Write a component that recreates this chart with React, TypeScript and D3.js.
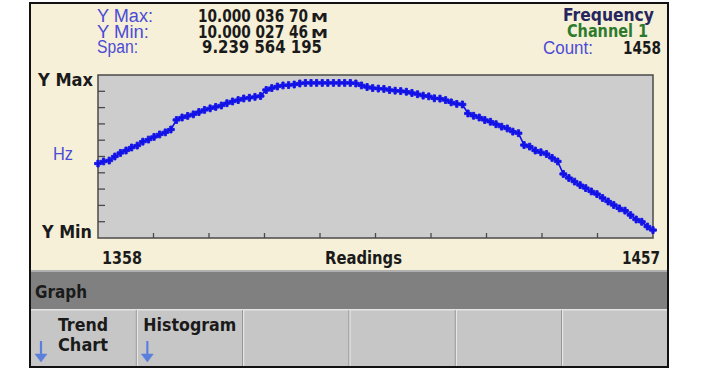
import React, { useMemo } from "react";
import * as d3 from "d3";

const WIDTH = 720;
const HEIGHT = 370;

// plot box inside the instrument screen
const PLOT = { left: 98, top: 75, right: 653, bottom: 238 };

const FIRST_READING = 1358;
const LAST_READING = 1457;
const COUNT = 1458;

// header numbers, as shown by the instrument
const Y_MAX_LABEL = "10.000 036 70";
const Y_MIN_LABEL = "10.000 027 46";
const SPAN_LABEL = "9.239 564 195";

// axis range: Hz above 10 MHz
const Y_MIN_HZ = 27.46;
const Y_MAX_HZ = 36.7;

// readings 1358..1457, in Hz above 10 000 000 Hz
const readings = [
  31.68, 31.8, 31.85, 32.08, 32.28, 32.42, 32.59, 32.7, 32.92, 33.04,
  33.19, 33.33, 33.45, 33.61, 34.15, 34.29, 34.38, 34.47, 34.6, 34.72,
  34.81, 34.89, 34.97, 35.1, 35.2, 35.28, 35.37, 35.41, 35.46, 35.51,
  35.85, 35.96, 36.05, 36.11, 36.13, 36.16, 36.22, 36.25, 36.25, 36.25,
  36.25, 36.25, 36.25, 36.25, 36.25, 36.25, 36.22, 36.11, 36.02, 35.96,
  35.93, 35.91, 35.85, 35.81, 35.79, 35.75, 35.68, 35.61, 35.53, 35.49,
  35.38, 35.36, 35.28, 35.15, 35.06, 35.03, 34.52, 34.39, 34.29, 34.15,
  34.05, 33.91, 33.77, 33.67, 33.49, 33.4, 32.73, 32.64, 32.42, 32.32,
  32.22, 32.0, 31.8, 31.09, 30.86, 30.66, 30.46, 30.29, 30.1, 29.95,
  29.73, 29.53, 29.33, 29.14, 29.01, 28.76, 28.51, 28.38, 28.11, 27.91,
];

const softKeys = [
  { lines: ["Trend", "Chart"], arrow: true },
  { lines: ["Histogram"], arrow: true },
  { lines: [], arrow: false },
  { lines: [], arrow: false },
  { lines: [], arrow: false },
  { lines: [], arrow: false },
];

const BOLD = "'DejaVu Sans Condensed', 'DejaVu Sans', sans-serif";
const THIN = "'Liberation Sans Narrow', 'Liberation Sans', Arial, sans-serif";

const CREAM = "#f6f0d8";
const PLOT_BG = "#cdcdcd";
const TRACE = "#1212e8";
const LABEL_BLUE = "#4b4bd6";

// text squeezed/stretched to the width it has on the instrument screen
const T = ({ x, y, w, size, bold, fill, anchor, family, children }: any) => (
  <text
    x={x}
    y={y}
    fontSize={size}
    fontWeight={bold ? "bold" : "normal"}
    fontFamily={family || (bold ? BOLD : THIN)}
    fill={fill || "#1a1a1a"}
    textAnchor={anchor || "start"}
    textLength={w}
    lengthAdjust={w ? "spacingAndGlyphs" : undefined}
  >
    {children}
  </text>
);

export default function App() {
  const xScale = useMemo(
    () => d3.scaleLinear().domain([FIRST_READING, LAST_READING]).range([PLOT.left, PLOT.right]),
    []
  );
  const yScale = useMemo(
    () => d3.scaleLinear().domain([Y_MIN_HZ, Y_MAX_HZ]).range([PLOT.bottom, PLOT.top]),
    []
  );

  const data = readings.map((v, i) => ({ n: FIRST_READING + i, v }));

  const linePath = d3
    .line<{ n: number; v: number }>()
    .x((d) => xScale(d.n))
    .y((d) => yScale(d.v))(data);

  const marker = d3.symbol().type(d3.symbolCross).size(26)();

  // ten divisions on each axis, ticks at the inner ones
  const yTicks = d3.range(1, 10).map((k) => Y_MIN_HZ + (k * (Y_MAX_HZ - Y_MIN_HZ)) / 10);
  const xTicks = d3.range(1, 10).map((k) => FIRST_READING + (k * (LAST_READING - FIRST_READING)) / 10);

  const keyScale = d3.scaleBand<number>().domain(d3.range(softKeys.length)).range([30, 668]);

  return (
    <svg
      width={WIDTH}
      height={HEIGHT}
      style={{ position: "absolute", left: 0, top: 0, background: "#fff" }}
    >
      {/* screen background */}
      <rect x={30} y={3} width={638} height={364} fill={CREAM} />

      {/* header */}
      <T x={97} y={22} w={56} size={18} fill={LABEL_BLUE}>Y Max:</T>
      <T x={97} y={38} w={52} size={18} fill={LABEL_BLUE}>Y Min:</T>
      <T x={97} y={53} w={41} size={18} fill={LABEL_BLUE}>Span:</T>

      <T x={198} y={22} w={110} size={18} bold>{Y_MAX_LABEL}</T>
      <T x={311} y={22} w={17} size={12} bold>M</T>
      <T x={198} y={38} w={110} size={18} bold>{Y_MIN_LABEL}</T>
      <T x={311} y={38} w={17} size={12} bold>M</T>
      <T x={202} y={53} w={120} size={18} bold>{SPAN_LABEL}</T>

      <T x={654} y={21} w={91} size={17} bold anchor="end" fill="#26265e">Frequency</T>
      <T x={648} y={37} w={81} size={17} bold anchor="end" fill="#2d7a2d">Channel 1</T>
      <T x={543} y={54} w={50} size={18} fill={LABEL_BLUE}>Count:</T>
      <T x={661} y={54} w={38} size={18} bold anchor="end">{COUNT}</T>

      {/* plot area */}
      <rect
        x={PLOT.left}
        y={PLOT.top}
        width={PLOT.right - PLOT.left}
        height={PLOT.bottom - PLOT.top}
        fill={PLOT_BG}
        stroke="#4a4a4a"
        strokeWidth={1.5}
      />
      {yTicks.map((t, i) => (
        <line
          key={"y" + i}
          x1={PLOT.left}
          x2={PLOT.left + 7}
          y1={yScale(t)}
          y2={yScale(t)}
          stroke="#4a4a4a"
          strokeWidth={1.3}
        />
      ))}
      {xTicks.map((t, i) => (
        <line
          key={"x" + i}
          x1={xScale(t)}
          x2={xScale(t)}
          y1={PLOT.bottom}
          y2={PLOT.bottom - 5}
          stroke="#4a4a4a"
          strokeWidth={1.3}
        />
      ))}

      <path d={linePath || ""} fill="none" stroke={TRACE} strokeWidth={1.6} />
      {data.map((d, i) => (
        <path
          key={i}
          d={marker || ""}
          transform={`translate(${xScale(d.n)},${yScale(d.v)})`}
          fill={TRACE}
          stroke={TRACE}
          strokeWidth={0.9}
          strokeLinejoin="round"
        />
      ))}

      {/* axis labels */}
      <T x={38} y={86} w={55} size={18} bold>Y Max</T>
      <T x={42} y={238} w={50} size={18} bold>Y Min</T>
      <T x={53} y={160} w={20} size={18} fill={LABEL_BLUE}>Hz</T>
      <T x={102} y={264} w={40} size={18} bold>{FIRST_READING}</T>
      <T x={325} y={264} w={77} size={18} bold>Readings</T>
      <T x={660} y={264} w={38} size={18} bold anchor="end">{LAST_READING}</T>

      {/* menu title bar */}
      <rect x={30} y={270} width={638} height={2} fill="#b0b0b0" />
      <rect x={30} y={272} width={638} height={37} fill="#808080" />
      <T x={35} y={298} w={52} size={18} bold>Graph</T>

      {/* soft keys */}
      <rect x={30} y={309} width={638} height={58} fill="#c6c6c6" />
      <rect x={30} y={309} width={638} height={1.5} fill="#e4e4e4" />
      {softKeys.map((k, i) => {
        const x0 = keyScale(i) || 0;
        return (
          <g key={"k" + i}>
            {i > 0 && (
              <>
                <line x1={x0} x2={x0} y1={310} y2={366} stroke="#8e8e8e" strokeWidth={1} />
                <line x1={x0 + 1} x2={x0 + 1} y1={310} y2={366} stroke="#ececec" strokeWidth={1} />
              </>
            )}
            {k.lines.length === 2 && (
              <>
                <T x={x0 + 28} y={331} w={50} size={18} bold>{k.lines[0]}</T>
                <T x={x0 + 28} y={351} w={50} size={18} bold>{k.lines[1]}</T>
              </>
            )}
            {k.lines.length === 1 && (
              <T x={x0 + 7} y={331} w={93} size={18} bold>{k.lines[0]}</T>
            )}
            {k.arrow && (
              <g fill="#5b7fdc" stroke="#5b7fdc">
                <line x1={x0 + 11} x2={x0 + 11} y1={341} y2={357} strokeWidth={2.2} />
                <path
                  d={`M${x0 + 5},${354} L${x0 + 17},${354} L${x0 + 11},${362} Z`}
                  strokeWidth={0.5}
                />
              </g>
            )}
          </g>
        );
      })}

      {/* screen frame */}
      <rect x={30} y={3} width={638} height={364} fill="none" stroke="#111" strokeWidth={2} />
    </svg>
  );
}
